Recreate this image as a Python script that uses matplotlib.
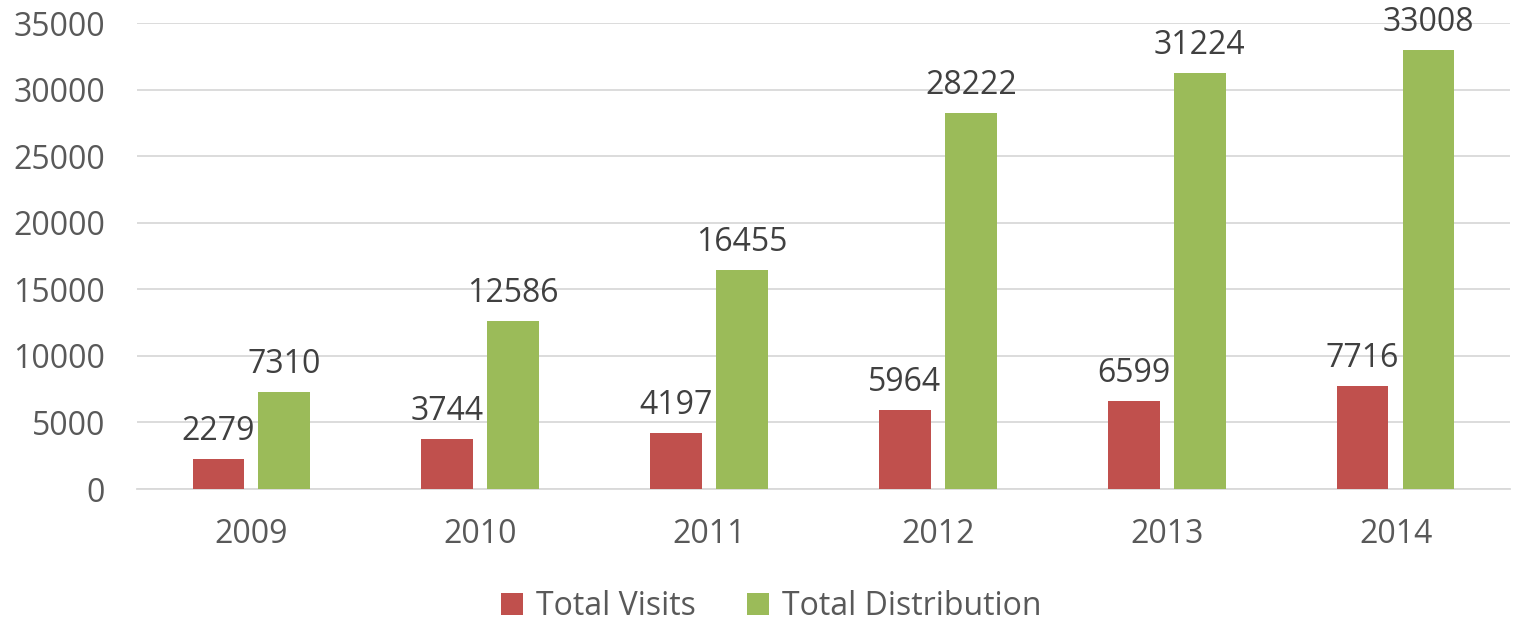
import matplotlib
matplotlib.use("Agg")
import matplotlib.pyplot as plt
import numpy as np

# Daten aus dem Diagramm
years = ["2009", "2010", "2011", "2012", "2013", "2014"]
total_visits = [2279, 3744, 4197, 5964, 6599, 7716]
total_distribution = [7310, 12586, 16455, 28222, 31224, 33008]

RED = "#C0504D"
GREEN = "#9BBB59"
TICK_COLOR = "#595959"
LABEL_COLOR = "#404040"
GRID_COLOR = "#D9D9D9"

plt.rcParams["font.family"] = ["Open Sans", "DejaVu Sans"]

fig = plt.figure(figsize=(15.15, 6.22), dpi=100)
ax = fig.add_axes([0.0904, 0.2138, 0.9063, 0.749])

x = np.arange(len(years))
width = 0.226
offset = 0.144

bars_v = ax.bar(x - offset, total_visits, width, color=RED, label="Total Visits", zorder=3)
bars_d = ax.bar(x + offset, total_distribution, width, color=GREEN, label="Total Distribution", zorder=3)

# Werte über die Balken
for bars, vals in [(bars_v, total_visits), (bars_d, total_distribution)]:
    for b, v in zip(bars, vals):
        ax.annotate(str(v), (b.get_x() + b.get_width() / 2, v),
                    xytext=(0, 8), textcoords="offset points",
                    ha="center", va="bottom", fontsize=23, color=LABEL_COLOR, zorder=4)

ax.set_xlim(-0.5, len(years) - 0.5)
ax.set_ylim(0, 35000)
ax.set_yticks(range(0, 35001, 5000))
ax.set_xticks(x)
ax.set_xticklabels(years)

ax.grid(axis="y", color=GRID_COLOR, linewidth=1.3, zorder=0)
for side in ["top", "right", "left"]:
    ax.spines[side].set_visible(False)
ax.spines["bottom"].set_color(GRID_COLOR)
ax.spines["bottom"].set_linewidth(1.3)

ax.tick_params(axis="both", length=0, labelsize=23, labelcolor=TICK_COLOR)
ax.tick_params(axis="y", pad=23)
ax.tick_params(axis="x", pad=21)

fig.legend(loc="center", bbox_to_anchor=(0.509, 0.025), ncol=2, frameon=False,
           fontsize=23, labelcolor=TICK_COLOR, handlelength=0.7, handleheight=0.7,
           handletextpad=0.4, columnspacing=1.6)

fig.savefig("out.png", dpi=100)
plt.close(fig)
